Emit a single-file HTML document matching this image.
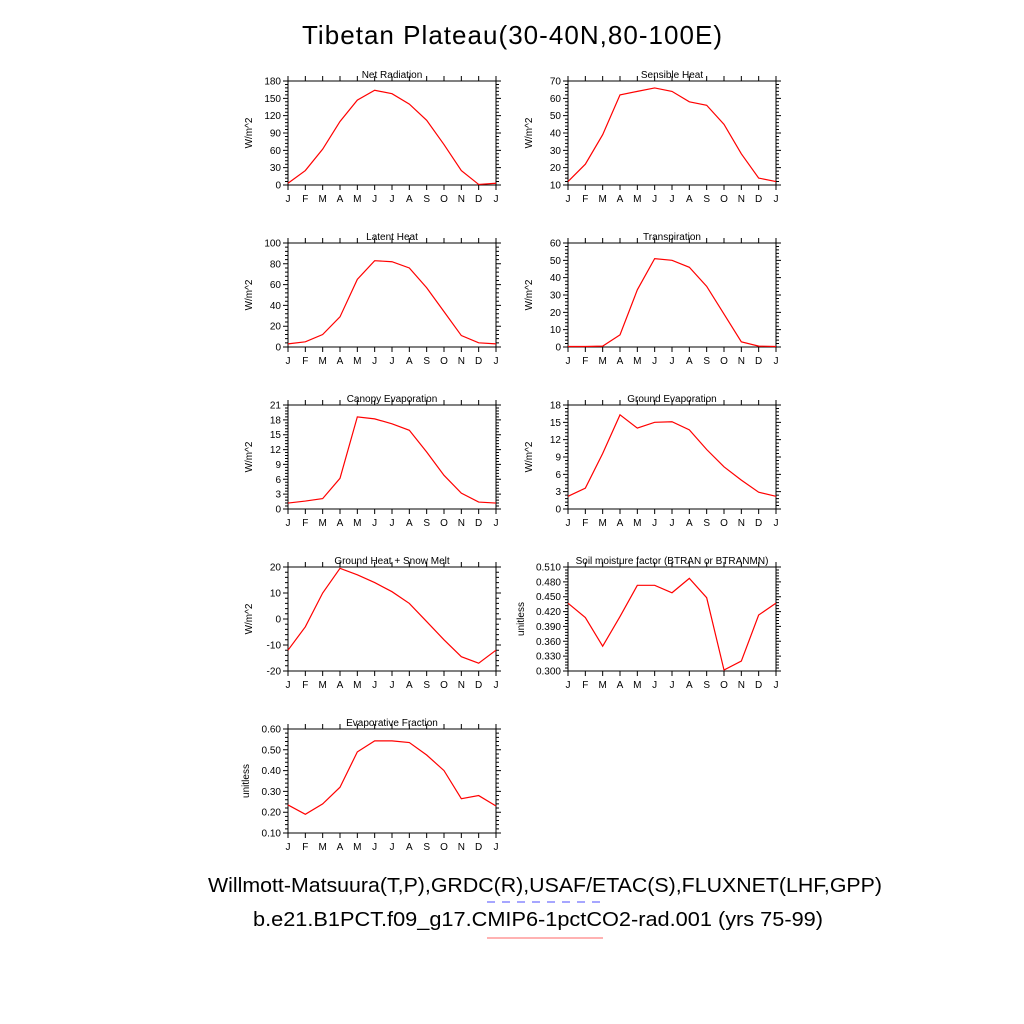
<!DOCTYPE html>
<html><head><meta charset="utf-8"><style>
body{margin:0;background:#fff}
svg{display:block;font-family:"Liberation Sans",Arial,sans-serif}
</style></head><body>
<svg id="chart" width="1024" height="1024" viewBox="0 0 1024 1024">
<rect width="1024" height="1024" fill="#fff"/>
<text x="512" y="44" font-size="26" text-anchor="middle" textLength="420">Tibetan Plateau(30-40N,80-100E)</text>
<text x="545" y="892" font-size="20" text-anchor="middle" textLength="674" lengthAdjust="spacingAndGlyphs">Willmott-Matsuura(T,P),GRDC(R),USAF/ETAC(S),FLUXNET(LHF,GPP)</text>
<line x1="487" y1="902" x2="603" y2="902" stroke="#8888ff" stroke-width="1.5" stroke-dasharray="8,7"/>
<text x="538" y="926" font-size="20" text-anchor="middle" textLength="570" lengthAdjust="spacingAndGlyphs">b.e21.B1PCT.f09_g17.CMIP6-1pctCO2-rad.001 (yrs 75-99)</text>
<line x1="487" y1="938" x2="603" y2="938" stroke="#ff9999" stroke-width="1.5"/>
<g id="panels"></g>
</svg>
<script>
const months = ["J","F","M","A","M","J","J","A","S","O","N","D","J"];
const netRad = [3,25,62,110,147,164,158,140,112,70,25,1,3];
const sensible = [12,22,39,62,64,66,64,58,56,45,28,14,12];
const latent = [3,5,12,29,65,83,82,76,57,34,11,4,3];
const transp = [0.3,0.3,0.5,7,33,51,50,46,35,19,3,0.5,0.3];
const canopy = [1.2,1.6,2.1,6.2,18.6,18.2,17.2,15.9,11.5,6.8,3.2,1.4,1.2];
const groundEvap = [2.2,3.6,9.6,16.3,14,15,15.1,13.7,10.3,7.3,5,2.9,2.2];
const groundHeat = [-12,-3,10,19.5,17,14,10.5,6,-1,-8,-14.5,-17,-12];
const soil = [0.437,0.408,0.35,0.41,0.473,0.473,0.458,0.487,0.448,0.302,0.32,0.413,0.437];
const evapFrac = [0.235,0.19,0.24,0.32,0.49,0.543,0.543,0.535,0.475,0.40,0.265,0.28,0.23];
const ticksNet = [0,30,60,90,120,150,180];
const ticksSens = [10,20,30,40,50,60,70];
const ticksLat = [0,20,40,60,80,100];
const ticksTr = [0,10,20,30,40,50,60];
const ticksCan = [0,3,6,9,12,15,18,21];
const ticksGe = [0,3,6,9,12,15,18];
const ticksGh = [-20,-10,0,10,20];
const ticksSoil = [0.300,0.330,0.360,0.390,0.420,0.450,0.480,0.510];
const ticksEf = [0.10,0.20,0.30,0.40,0.50,0.60];

const panels = [
 {t:"Net Radiation",d:netRad,tk:ticksNet,dec:0,u:"W/m^2",c:0,r:0,n:"net-radiation"},
 {t:"Sensible Heat",d:sensible,tk:ticksSens,dec:0,u:"W/m^2",c:1,r:0,n:"sensible-heat"},
 {t:"Latent Heat",d:latent,tk:ticksLat,dec:0,u:"W/m^2",c:0,r:1,n:"latent-heat"},
 {t:"Transpiration",d:transp,tk:ticksTr,dec:0,u:"W/m^2",c:1,r:1,n:"transpiration"},
 {t:"Canopy Evaporation",d:canopy,tk:ticksCan,dec:0,u:"W/m^2",c:0,r:2,n:"canopy-evaporation"},
 {t:"Ground Evaporation",d:groundEvap,tk:ticksGe,dec:0,u:"W/m^2",c:1,r:2,n:"ground-evaporation"},
 {t:"Ground Heat + Snow Melt",d:groundHeat,tk:ticksGh,dec:0,u:"W/m^2",c:0,r:3,n:"ground-heat"},
 {t:"Soil moisture factor (BTRAN or BTRANMN)",d:soil,tk:ticksSoil,dec:3,u:"unitless",c:1,r:3,n:"soil-moisture"},
 {t:"Evaporative Fraction",d:evapFrac,tk:ticksEf,dec:2,u:"unitless",c:0,r:4,n:"evaporative-fraction"}
];
const NS="http://www.w3.org/2000/svg";
const root=document.getElementById("panels");
function mk(tag,attrs,parent){const e=document.createElementNS(NS,tag);for(const k in attrs)e.setAttribute(k,attrs[k]);parent.appendChild(e);return e;}
panels.forEach(p=>{
 const x0=p.c?568:288, w=208, y0=81+p.r*162, h=104;
 const g=mk("g",{},root);
 
 
 const lo=p.tk[0], hi=p.tk[p.tk.length-1];
 const X=i=>x0+i*w/12, Y=v=>y0+h-(v-lo)/(hi-lo)*h;
 const fr=mk("rect",{x:x0,y:y0,width:w,height:h,fill:"none",stroke:"#000","stroke-width":1},g);
 
 
 let path="";
 months.forEach((m,i)=>{
  path+=`M${X(i)} ${y0+h}v5M${X(i)} ${y0}v-5`;
  const t=mk("text",{x:X(i),y:y0+h+17,"font-size":10,"text-anchor":"middle"},g);
  t.textContent=m;
  
  
 });
 const step=p.tk[1]-p.tk[0];
 p.tk.forEach((v,i)=>{
  path+=`M${x0} ${Y(v)}h-5M${x0+w} ${Y(v)}h5`;
  if(i<p.tk.length-1){for(let k=1;k<5;k++){const yy=Y(v+step*k/5);path+=`M${x0} ${yy}h-3M${x0+w} ${yy}h3`;}}
  const t=mk("text",{x:x0-7,y:Y(v)+3.5,"font-size":10,"text-anchor":"end"},g);
  t.textContent=v.toFixed(p.dec);
  
  
 });
 mk("path",{d:path,stroke:"#000","stroke-width":1,fill:"none"},g);
 const tt=mk("text",{x:x0+w/2,y:y0-3,"font-size":10,"text-anchor":"middle"},g);
 tt.textContent=p.t;
 
 
 const yl=mk("text",{x:0,y:0,"font-size":10,"text-anchor":"middle",transform:`translate(${x0-(p.dec==3?44:p.dec==2?39:36)},${y0+h/2}) rotate(-90)`},g);
 yl.textContent=p.u;
 
 
 const pts=p.d.map((v,i)=>X(i)+","+Y(v)).join(" ");
 const ln=mk("polyline",{points:pts,fill:"none",stroke:"#ff0000","stroke-width":1.2},g);
 
 
});
</script>
</body></html>
